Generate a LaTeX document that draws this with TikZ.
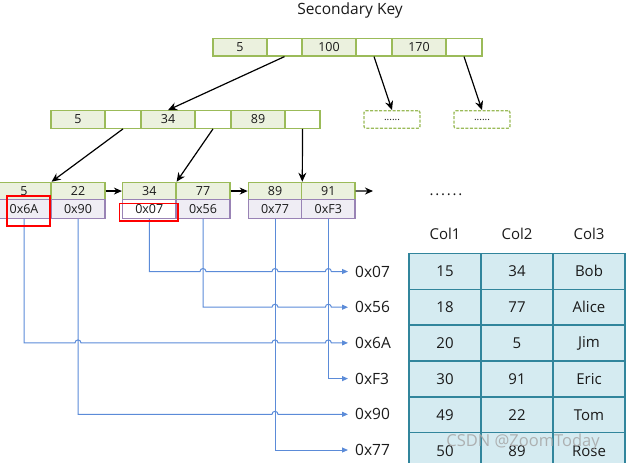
\documentclass[tikz,border=0pt]{standalone}
\usepackage{fontspec}
\setmainfont{Open Sans}
\usetikzlibrary{arrows.meta,calc}
\definecolor{kfill}{HTML}{EBF1DE}
\definecolor{kdraw}{HTML}{9BBB59}
\definecolor{pfill}{HTML}{EFEDF4}
\definecolor{pdraw}{HTML}{8064A2}
\definecolor{bline}{HTML}{5B8BD8}
\definecolor{tfill}{HTML}{D5EBF1}
\definecolor{tdraw}{HTML}{31859C}
\definecolor{txt}{HTML}{1A1A1A}
\newcommand\mkcell[7]{\node[#1,minimum width={(#4)-(#3)},minimum height={(#6)-(#5)}] (#2) at ({((#3)+(#4))/2},{((#5)+(#6))/2}) {#7};}
\begin{document}
\begin{tikzpicture}[x=1pt,y=-1pt,
  every node/.style={text=txt},
  kcell/.style={draw=kdraw,fill=kfill,line width=1.2pt,inner sep=0pt,font=\fontsize{12.5}{13}\selectfont},
  ecell/.style={draw=kdraw,fill=white,line width=1.2pt,inner sep=0pt},
  dcell/.style={draw=kdraw,fill=white,line width=1.3pt,dash pattern=on 3pt off 1.5pt,rounded corners=2pt,inner sep=0pt,font=\fontsize{10}{10}\selectfont},
  pcell/.style={draw=pdraw!80,fill=pfill,line width=1.2pt,inner sep=0pt,font=\fontsize{12.5}{13}\selectfont},
  tarrow/.style={line width=1.2pt,-{Stealth[length=9pt,width=8pt]}},
  larrow/.style={line width=1.2pt,-{Stealth[length=8pt,width=7pt]}},
  bl/.style={draw=bline,line width=1pt,-{Triangle[length=6pt,width=5pt]}},
  lbl/.style={anchor=west,inner sep=0pt,font=\fontsize{15.5}{16}\selectfont},
  tcell/.style={draw=tdraw,fill=tfill,line width=1.3pt,inner sep=0pt,minimum width=72pt,minimum height=35.9pt,font=\fontsize{15}{16}\selectfont},
  thead/.style={inner sep=0pt,font=\fontsize{15}{16}\selectfont},
  redbox/.style={draw=red,line width=1.6pt}]
\useasboundingbox (0,0) rectangle (629,463);
\clip (0,0) rectangle (629,463);
% title
\node[font=\fontsize{15.5}{16}\selectfont] (title) at (350,10) {Secondary Key};
% top row
\mkcell{kcell}{ta}{213}{267}{38.5}{56}{5}
\mkcell{ecell}{tb}{267}{302}{38.5}{56}{}
\mkcell{kcell}{tc}{302}{356}{38.5}{56}{100}
\mkcell{ecell}{td}{356}{392}{38.5}{56}{}
\mkcell{kcell}{te}{392}{446}{38.5}{56}{170}
\mkcell{ecell}{tf}{446}{482}{38.5}{56}{}
% second row
\mkcell{kcell}{sa}{51}{105}{110.7}{128.3}{5}
\mkcell{ecell}{sb}{105}{141}{110.7}{128.3}{}
\mkcell{kcell}{sc}{141}{195}{110.7}{128.3}{34}
\mkcell{ecell}{sd}{195}{231}{110.7}{128.3}{}
\mkcell{kcell}{se}{231}{285}{110.7}{128.3}{89}
\mkcell{ecell}{sf}{285}{320}{110.7}{128.3}{}
\mkcell{dcell}{da}{364}{420}{110.7}{128.3}{......}
\mkcell{dcell}{db}{454}{510}{110.7}{128.3}{......}
% leaves
\mkcell{kcell}{la}{-3}{51}{182.3}{199.8}{5}
\mkcell{kcell}{lb}{51}{105}{182.3}{199.8}{22}
\mkcell{pcell}{lc}{-3}{51}{199.8}{218.3}{0x6A}
\mkcell{pcell}{ld}{51}{105}{199.8}{218.3}{0x90}
\mkcell{kcell}{le}{122.5}{176}{182.3}{199.8}{34}
\mkcell{kcell}{lf}{176}{230}{182.3}{199.8}{77}
\mkcell{pcell,fill=white}{lg}{122.5}{176}{199.8}{218.3}{0x07}
\mkcell{pcell}{lh}{176}{230}{199.8}{218.3}{0x56}
\mkcell{kcell}{li}{248.3}{301.7}{182.3}{199.8}{89}
\mkcell{kcell}{lj}{301.7}{355}{182.3}{199.8}{91}
\mkcell{pcell}{lk}{248.3}{301.7}{199.8}{218.3}{0x77}
\mkcell{pcell}{ll}{301.7}{355}{199.8}{218.3}{0xF3}
\coordinate (lend) at (373,191);
% tree arrows
\draw[tarrow] (tb.south) -- (sc.north);
\draw[tarrow] (td.south) -- (da.north);
\draw[tarrow] (tf.south) -- (db.north);
\draw[tarrow] (sb.south) -- (la.north east);
\draw[tarrow] (sd.south) -- (le.north east);
\draw[tarrow] (sf.south) -- (li.north east);
\draw[larrow] (lb.east) -- (le.west);
\draw[larrow] (lf.east) -- (li.west);
\draw[larrow] (lj.east) -- (lend);
% dots
\node[font=\fontsize{15}{15}\selectfont\addfontfeature{LetterSpace=12}] (dots) at (446,195) {......};
% target labels
\coordinate (q1) at (348,271.5);
\coordinate (q2) at (348,307.2);
\coordinate (q3) at (348,342.9);
\coordinate (q4) at (348,378.6);
\coordinate (q5) at (348,414.3);
\coordinate (q6) at (348,450);
\node[lbl] (r1) at (355,271.5) {0x07};
\node[lbl] (r2) at (355,307.2) {0x56};
\node[lbl] (r3) at (355,342.9) {0x6A};
\node[lbl] (r4) at (355,378.6) {0xF3};
\node[lbl] (r5) at (355,414.3) {0x90};
\node[lbl] (r6) at (355,450) {0x77};
% blue pointer lines
\draw[bl] (lg.south) -- (lg.south |- q1)
  -- ($(lh.south |- q1)+(-3pt,0)$) arc[start angle=180,end angle=0,radius=3pt]
  -- ($(lk.south |- q1)+(-3pt,0)$) arc[start angle=180,end angle=0,radius=3pt]
  -- ($(ll.south |- q1)+(-3pt,0)$) arc[start angle=180,end angle=0,radius=3pt]
  -- (q1);
\draw[bl] (lh.south) -- (lh.south |- q2)
  -- ($(lk.south |- q2)+(-3pt,0)$) arc[start angle=180,end angle=0,radius=3pt]
  -- ($(ll.south |- q2)+(-3pt,0)$) arc[start angle=180,end angle=0,radius=3pt]
  -- (q2);
\draw[bl] (lc.south) -- (lc.south |- q3)
  -- ($(ld.south |- q3)+(-3pt,0)$) arc[start angle=180,end angle=0,radius=3pt]
  -- ($(lk.south |- q3)+(-3pt,0)$) arc[start angle=180,end angle=0,radius=3pt]
  -- ($(ll.south |- q3)+(-3pt,0)$) arc[start angle=180,end angle=0,radius=3pt]
  -- (q3);
\draw[bl] (ll.south) -- (ll.south |- q4) -- (q4);
\draw[bl] (ld.south) -- (ld.south |- q5)
  -- ($(lk.south |- q5)+(-3pt,0)$) arc[start angle=180,end angle=0,radius=3pt]
  -- (q5);
\draw[bl] (lk.south) -- (lk.south |- q6) -- (q6);
% red highlight boxes
\draw[redbox] (6.7,195.7) rectangle (50,225.7);
\draw[redbox] (119.3,203.3) rectangle (177.7,221);
% table
\node[thead] (h1) at (445,234) {Col1};
\node[thead] (h2) at (517,234) {Col2};
\node[thead] (h3) at (589,234) {Col3};
\foreach \a/\b/\c [count=\i from 0] in {15/34/Bob,18/77/Alice,20/5/Jim,30/91/Eric,49/22/Tom,50/89/Rose}{
  \node[tcell] (c\i a) at (445,{271.25+35.9*\i}) {\a};
  \node[tcell] (c\i b) at (517,{271.25+35.9*\i}) {\b};
  \node[tcell] (c\i c) at (589,{271.25+35.9*\i}) {\c};
}
% watermark
\node[text=gray!70,opacity=0.85,font=\fontsize{16.5}{17}\selectfont] (wm) at (523,442) {CSDN @ZoomToday};
\end{tikzpicture}
\end{document}
